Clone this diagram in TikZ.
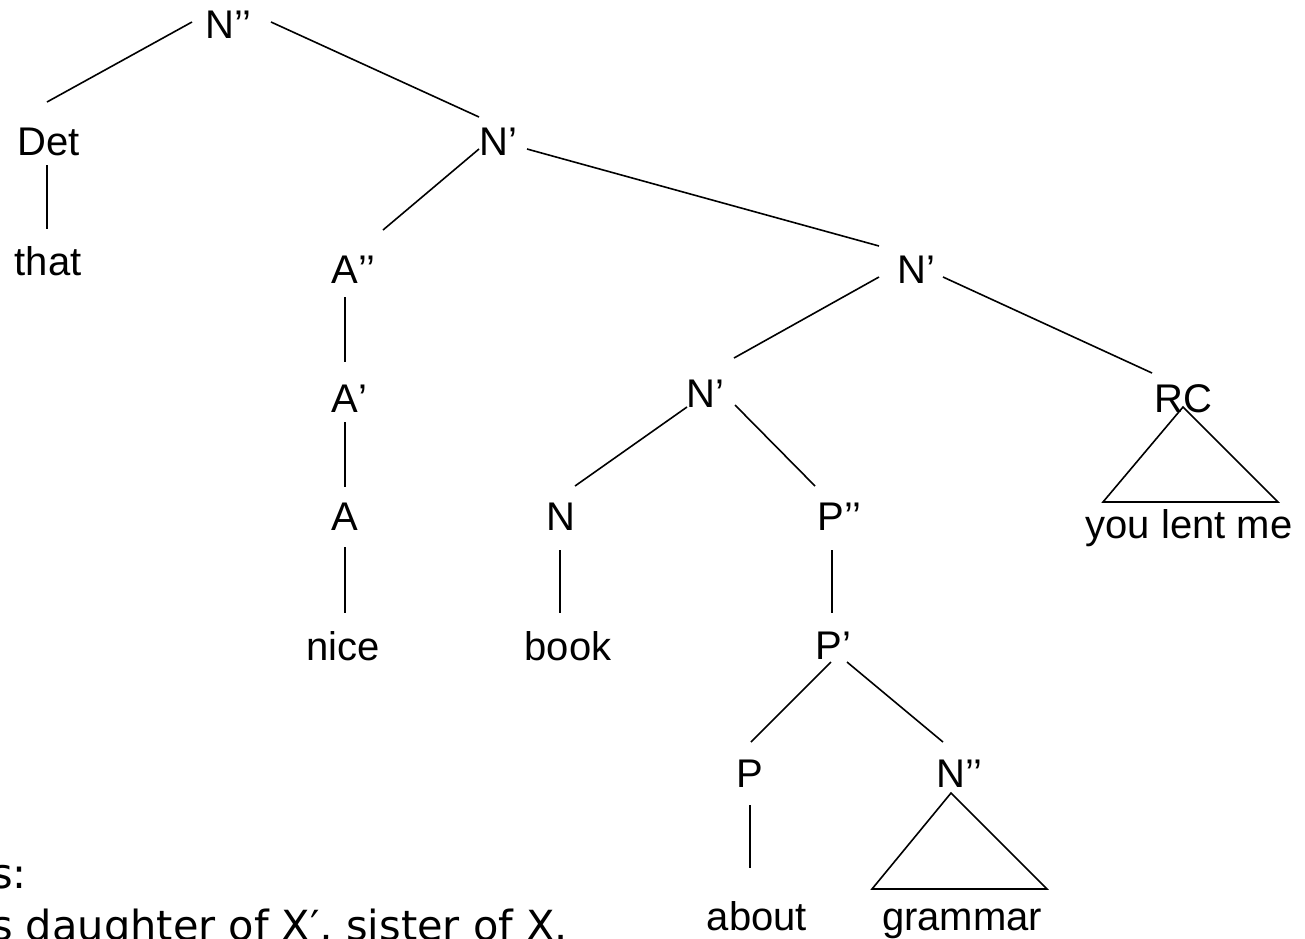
\documentclass[tikz,border=0pt]{standalone}
\usepackage{fontspec}
\setmainfont{Liberation Sans}
\newfontfamily\notefont{DejaVu Sans}
\begin{document}
\begin{tikzpicture}[x=1pt,y=-1pt,
  cat/.style={anchor=base, inner sep=0pt, font=\fontsize{40}{48}\selectfont},
  note/.style={anchor=base west, inner sep=0pt, font=\notefont\fontsize{41.5}{50}\selectfont},
  branch/.style={line width=1.6pt},
  roof/.style={line width=1.6pt, line join=miter}]
\useasboundingbox (0,0) rectangle (1305,938);
\clip (0,0) rectangle (1305,938);

% category labels (primes kept out of the box so the letter is centred)
\node[cat] (n0) at (220,38) {N\rlap{’’}};
\node[cat] (det) at (49,155) {Det};
\node[cat] (that) at (48,275) {that};
\node[cat] (n1) at (494,155) {N\rlap{’}};
\node[cat] (a2) at (345,283) {A\rlap{’’}};
\node[cat] (n2) at (912,283) {N\rlap{’}};
\node[cat] (a1) at (345,412) {A\rlap{’}};
\node[cat] (n3) at (701,407) {N\rlap{’}};
\node[cat] (rc) at (1183,412) {RC};
\node[cat] (a0) at (345,530) {A};
\node[cat] (n) at (561,530) {N};
\node[cat] (p2) at (831,530) {P\rlap{’’}};
\node[cat] (yle) at (1189,538) {you lent me};
\node[cat] (nice) at (343,660) {nice};
\node[cat] (book) at (568,660) {book};
\node[cat] (p1) at (829,659) {P\rlap{’}};
\node[cat] (p0) at (750,787) {P};
\node[cat] (n4) at (951,787) {N\rlap{’’}};
\node[cat] (about) at (757,930) {about};
\node[cat] (gram) at (962,930) {grammar};

% branches
\draw[branch] ([shift={(-28,-16)}]n0.base) -- ([shift={(-2,-53)}]det.base);
\draw[branch] ([shift={(51,-16)}]n0.base) -- ([shift={(-15,-38)}]n1.base);
\draw[branch] ([shift={(-2,10)}]det.base) -- ([shift={(-1,-46)}]that.base);
\draw[branch] ([shift={(-15,-6)}]n1.base) -- ([shift={(38,-53)}]a2.base);
\draw[branch] ([shift={(33,-6)}]n1.base) -- ([shift={(-33,-37)}]n2.base);
\draw[branch] ([shift={(0,14)}]a2.base) -- ([shift={(0,-50)}]a1.base);
\draw[branch] ([shift={(0,10)}]a1.base) -- ([shift={(0,-43)}]a0.base);
\draw[branch] ([shift={(0,17)}]a0.base) -- ([shift={(2,-47)}]nice.base);
\draw[branch] ([shift={(-33,-6)}]n2.base) -- ([shift={(33,-49)}]n3.base);
\draw[branch] ([shift={(31,-6)}]n2.base) -- ([shift={(-31,-39)}]rc.base);
\draw[branch] ([shift={(-14,0)}]n3.base) -- ([shift={(14,-44)}]n.base);
\draw[branch] ([shift={(34,-2)}]n3.base) -- ([shift={(-16,-44)}]p2.base);
\draw[branch] ([shift={(-1,20)}]n.base) -- ([shift={(-8,-47)}]book.base);
\draw[branch] ([shift={(1,20)}]p2.base) -- ([shift={(3,-46)}]p1.base);
\draw[branch] ([shift={(2,3)}]p1.base) -- ([shift={(1,-45)}]p0.base);
\draw[branch] ([shift={(18,3)}]p1.base) -- ([shift={(-8,-45)}]n4.base);
\draw[branch] ([shift={(0,18)}]p0.base) -- ([shift={(-7,-62)}]about.base);

% roofs over unanalysed constituents
\draw[roof] ([shift={(0,-5)}]rc.base) -- ([shift={(-80,90)}]rc.base)
  -- ([shift={(95,90)}]rc.base) -- cycle;
\draw[roof] ([shift={(0,6)}]n4.base) -- ([shift={(-79,102)}]n4.base)
  -- ([shift={(96,102)}]n4.base) -- cycle;

% note at the lower left
\node[note] (s1) at (-9,888) {s:};
\node[note] (s2) at (-9,940) {s daughter of X′, sister of X.};
\end{tikzpicture}
\end{document}
